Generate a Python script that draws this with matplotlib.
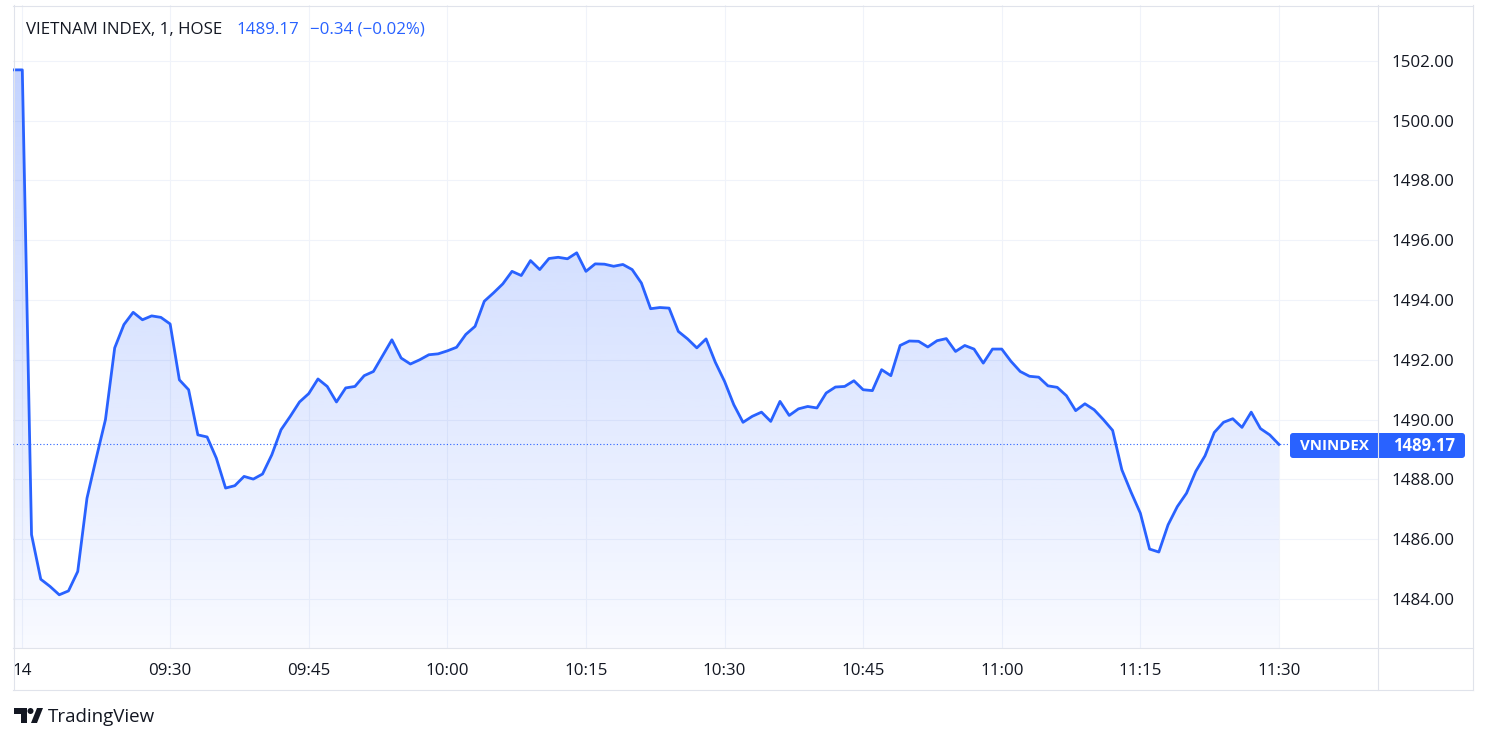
import numpy as np
import matplotlib
matplotlib.use('Agg')
from matplotlib import pyplot as plt
from matplotlib.patches import FancyBboxPatch, Polygon, Circle
from matplotlib.lines import Line2D
from matplotlib.transforms import IdentityTransform

# VN-Index, 1 minute bars; first value is the bar before the 09:14 bar
prices = [1501.7,
          1501.7, 1486.15, 1484.66, 1484.42, 1484.14, 1484.27, 1484.92, 1487.37, 1488.71, 1490.0,
          1492.4, 1493.18, 1493.59, 1493.34, 1493.47, 1493.42, 1493.2, 1491.33, 1491.0, 1489.49,
          1489.42, 1488.71, 1487.71, 1487.79, 1488.1, 1488.01, 1488.18, 1488.82, 1489.66, 1490.11,
          1490.59, 1490.87, 1491.36, 1491.11, 1490.59, 1491.06, 1491.11, 1491.47, 1491.61, 1492.14,
          1492.67, 1492.06, 1491.86, 1492.0, 1492.17, 1492.2, 1492.3, 1492.42, 1492.85, 1493.12,
          1493.96, 1494.24, 1494.54, 1494.96, 1494.82, 1495.32, 1495.02, 1495.39, 1495.43, 1495.38,
          1495.58, 1494.96, 1495.21, 1495.2, 1495.13, 1495.19, 1495.02, 1494.57, 1493.71, 1493.75,
          1493.73, 1492.95, 1492.7, 1492.4, 1492.7, 1491.92, 1491.28, 1490.5, 1489.91, 1490.11,
          1490.25, 1489.94, 1490.61, 1490.14, 1490.36, 1490.44, 1490.39, 1490.89, 1491.09, 1491.11,
          1491.3, 1491.0, 1490.97, 1491.67, 1491.47, 1492.48, 1492.63, 1492.62, 1492.43, 1492.64,
          1492.71, 1492.28, 1492.48, 1492.36, 1491.89, 1492.36, 1492.36, 1491.95, 1491.61, 1491.45,
          1491.42, 1491.13, 1491.08, 1490.8, 1490.3, 1490.53, 1490.33, 1490.0, 1489.64, 1488.32,
          1487.57, 1486.87, 1485.67, 1485.57, 1486.48, 1487.09, 1487.54, 1488.27, 1488.79, 1489.57,
          1489.91, 1490.03, 1489.74, 1490.25, 1489.7, 1489.49, 1489.17]

time_pos = [0, 16, 31, 46, 61, 76, 91, 106, 121, 136]
time_labels = ['14', '09:30', '09:45', '10:00', '10:15', '10:30', '10:45', '11:00', '11:15', '11:30']
price_ticks = [1484, 1486, 1488, 1490, 1492, 1494, 1496, 1498, 1500, 1502]

symbol = 'VNINDEX'
title = 'VIETNAM INDEX, 1, HOSE'
last_price = 1489.17
change = -0.34
change_pct = -0.02

blue = '#2962ff'
dark = '#131722'
border = '#e0e3eb'
gridc = '#f0f3fa'
fonts = ['Open Sans', 'DejaVu Sans']
plt.rcParams['font.family'] = fonts
fs = 12.2

W, H = 1488, 743
fig = plt.figure(figsize=(W / 100, H / 100), dpi=100)
ax = fig.add_axes([13 / W, 1 - 648 / H, 1365 / W, 643 / H])

x = np.arange(len(prices)) - 1
y = np.array(prices)
ymin, ymax = 1482.36, 1503.87

# gradient area under the line
grad = np.zeros((256, 1, 4))
grad[..., 0] = 41 / 255
grad[..., 1] = 98 / 255
grad[..., 2] = 1.0
grad[..., 3] = np.linspace(0.03, 0.28, 256)[:, None]
im = ax.imshow(grad, extent=[x[0], x[-1], ymin, y.max()], aspect='auto', origin='lower', zorder=1)
area = ax.fill_between(x, y, ymin, color='none', lw=0)
im.set_clip_path(area.get_paths()[0], transform=ax.transData)

ax.plot(x, y, color=blue, lw=2.0, solid_joinstyle='round', zorder=3)
ax.axhline(last_price, color=blue, lw=0.8, ls=(0, (1, 2)), zorder=2)

ax.set_xlim(-1.006, 146.72)
ax.set_ylim(ymin, ymax)
ax.set_xticks(time_pos)
ax.set_xticklabels(time_labels)
ax.set_yticks(price_ticks)
ax.set_yticklabels(['%.2f' % p for p in price_ticks])
ax.yaxis.tick_right()
ax.tick_params(axis='both', length=0, labelsize=fs, labelcolor=dark)
ax.tick_params(axis='y', pad=9.5)
ax.tick_params(axis='x', pad=10.5)
ax.grid(True, color=gridc, lw=0.8, zorder=0)
ax.set_axisbelow(True)
for s in ax.spines.values():
    s.set_visible(False)


def P(px, py):
    return px, H - py


def hline(x0, x1, yy):
    fig.add_artist(Line2D([x0, x1], [H - yy, H - yy], transform=IdentityTransform(), color=border, lw=0.8))


def vline(xx, y0, y1):
    fig.add_artist(Line2D([xx, xx], [H - y0, H - y1], transform=IdentityTransform(), color=border, lw=0.8))


# frame of the widget
hline(13, 1473, 5.5)
hline(13, 1473, 648)
hline(13, 1473, 689.5)
vline(13.5, 5, 690)
vline(1377.5, 5, 690)
vline(1472.5, 5, 690)

# legend line at top
fig.text(26 / W, 1 - 30 / H, title, fontsize=fs, color=dark, va='center')
fig.text(236 / W, 1 - 30 / H, '%.2f' % last_price, fontsize=fs, color=blue, va='center')
fig.text(310 / W, 1 - 30 / H, '\u2212%.2f (\u2212%.2f%%)' % (abs(change), abs(change_pct)),
         fontsize=fs, color=blue, va='center')

# last price label
box = FancyBboxPatch(P(1290, 458), 175, 25, boxstyle='round,pad=0,rounding_size=3',
                     fc=blue, ec='none', transform=IdentityTransform())
fig.add_artist(box)
fig.text(1300 / W, 1 - 446 / H, symbol, fontsize=10.8, color='white', weight='bold', va='center')
fig.text(1393 / W, 1 - 446 / H, '%.2f' % last_price, fontsize=12, color='white', weight='bold', va='center')

# TradingView logo
logo = [Polygon([P(14, 708), P(27, 708), P(27, 723), P(21, 723), P(21, 714), P(14, 714)]),
        Circle(P(30.5, 711), 3),
        Polygon([P(31, 723), P(37, 723), P(43, 708), P(37, 708)])]
for p in logo:
    p.set_transform(IdentityTransform())
    p.set_facecolor(dark)
    p.set_edgecolor('none')
    fig.add_artist(p)
fig.text(48 / W, 1 - 717 / H, 'TradingView', fontsize=13.5, color=dark, va='center')

fig.savefig('out.png', dpi=100)
